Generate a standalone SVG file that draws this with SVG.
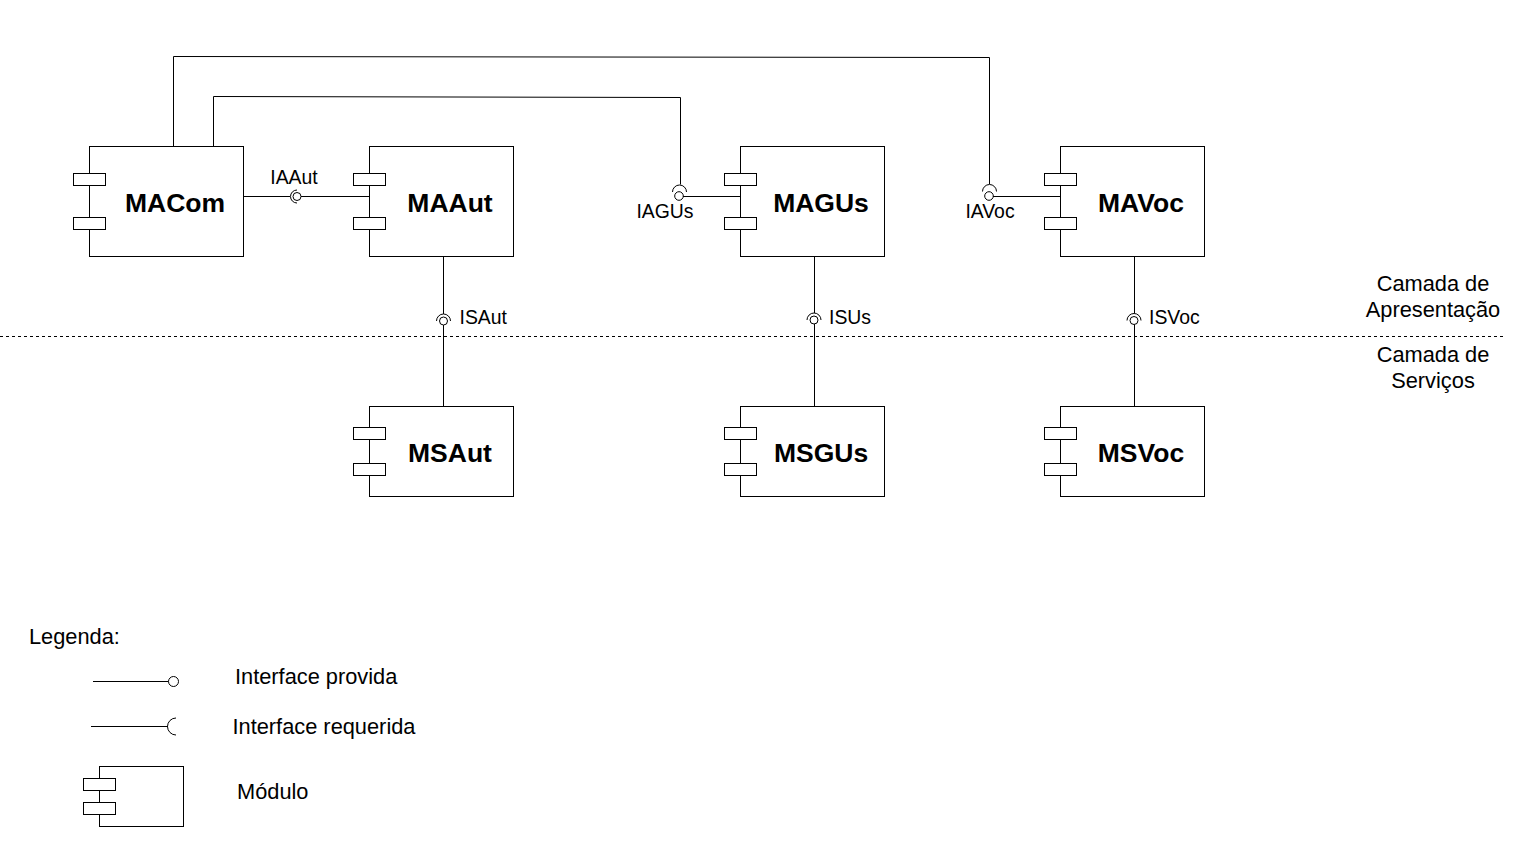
<svg xmlns="http://www.w3.org/2000/svg" width="1529" height="861" viewBox="0 0 1529 861">
<style>
.box{fill:#fff;stroke:#000;stroke-width:1}
.ln{fill:none;stroke:#000;stroke-width:1}
.name{font-family:"Liberation Sans",Arial,sans-serif;font-weight:bold;font-size:26.5px;text-anchor:middle;fill:#000}
.lbl{font-family:"Liberation Sans",Arial,sans-serif;font-size:19.4px;fill:#000}
.big{font-family:"Liberation Sans",Arial,sans-serif;font-size:21.8px;fill:#000}
</style>
<rect width="1529" height="861" fill="#fff"/>

<g id="connectors">
<polyline class="ln" points="173.5,146.5 173.5,56.5 989.5,57.5 989.5,184"/>
<polyline class="ln" points="213.5,146.5 213.5,96.5 680.5,97.5 680.5,184.5"/>
<!-- IAAut -->
<line class="ln" x1="243.5" y1="196.5" x2="290" y2="196.5"/>
<line class="ln" x1="301" y1="196.5" x2="373" y2="196.5"/>
<circle class="ln" cx="297" cy="196.5" r="4"/>
<path class="ln" d="M297,190 A6.5,6.5 0 0 0 297,203"/>
<!-- IAGUs -->
<line class="ln" x1="683" y1="196.5" x2="744" y2="196.5"/>
<circle class="ln" cx="679" cy="196" r="4.3"/>
<path class="ln" d="M672.5,192 A7,7 0 0 1 686.5,192"/>
<!-- IAVoc -->
<line class="ln" x1="993" y1="196.5" x2="1064" y2="196.5"/>
<circle class="ln" cx="989" cy="196" r="4.3"/>
<path class="ln" d="M982.5,191.5 A7,7 0 0 1 996.5,191.5"/>
<!-- ISAut -->
<line class="ln" x1="443.5" y1="256.5" x2="443.5" y2="314"/>
<line class="ln" x1="443.5" y1="325" x2="443.5" y2="406.5"/>
<circle class="ln" cx="443.5" cy="321" r="4"/>
<path class="ln" d="M436.5,321 A7,7 0 0 1 450.5,321"/>
<!-- ISUs -->
<line class="ln" x1="814.5" y1="256.5" x2="814.5" y2="313"/>
<line class="ln" x1="814.5" y1="324" x2="814.5" y2="406.5"/>
<circle class="ln" cx="814" cy="320" r="4"/>
<path class="ln" d="M807,320 A7,7 0 0 1 821,320"/>
<!-- ISVoc -->
<line class="ln" x1="1134.5" y1="256.5" x2="1134.5" y2="313"/>
<line class="ln" x1="1134.5" y1="324.5" x2="1134.5" y2="406.5"/>
<circle class="ln" cx="1134" cy="320.5" r="4"/>
<path class="ln" d="M1127,320.5 A7,7 0 0 1 1141,320.5"/>
</g>

<line class="ln" x1="0" y1="336.5" x2="1503" y2="336.5" stroke-dasharray="3 3"/>

<g id="MACom">
<rect class="box" x="89.5" y="146.5" width="154" height="110"/>
<rect class="box" x="73.5" y="173.5" width="32" height="12"/>
<rect class="box" x="73.5" y="217.5" width="32" height="12"/>
<text class="name" x="175" y="212">MACom</text>
</g>
<g id="MAAut">
<rect class="box" x="369.5" y="146.5" width="144" height="110"/>
<rect class="box" x="353.5" y="173.5" width="32" height="12"/>
<rect class="box" x="353.5" y="217.5" width="32" height="12"/>
<text class="name" x="450" y="212">MAAut</text>
</g>
<g id="MAGUs">
<rect class="box" x="740.5" y="146.5" width="144" height="110"/>
<rect class="box" x="724.5" y="173.5" width="32" height="12"/>
<rect class="box" x="724.5" y="217.5" width="32" height="12"/>
<text class="name" x="821" y="212">MAGUs</text>
</g>
<g id="MAVoc">
<rect class="box" x="1060.5" y="146.5" width="144" height="110"/>
<rect class="box" x="1044.5" y="173.5" width="32" height="12"/>
<rect class="box" x="1044.5" y="217.5" width="32" height="12"/>
<text class="name" x="1141" y="212">MAVoc</text>
</g>
<g id="MSAut">
<rect class="box" x="369.5" y="406.5" width="144" height="90"/>
<rect class="box" x="353.5" y="427.5" width="32" height="12"/>
<rect class="box" x="353.5" y="463.5" width="32" height="12"/>
<text class="name" x="450" y="462">MSAut</text>
</g>
<g id="MSGUs">
<rect class="box" x="740.5" y="406.5" width="144" height="90"/>
<rect class="box" x="724.5" y="427.5" width="32" height="12"/>
<rect class="box" x="724.5" y="463.5" width="32" height="12"/>
<text class="name" x="821" y="462">MSGUs</text>
</g>
<g id="MSVoc">
<rect class="box" x="1060.5" y="406.5" width="144" height="90"/>
<rect class="box" x="1044.5" y="427.5" width="32" height="12"/>
<rect class="box" x="1044.5" y="463.5" width="32" height="12"/>
<text class="name" x="1141" y="462">MSVoc</text>
</g>

<g id="labels">
<text class="lbl" x="294" y="184" text-anchor="middle">IAAut</text>
<text class="lbl" x="665" y="218" text-anchor="middle">IAGUs</text>
<text class="lbl" x="990" y="218" text-anchor="middle">IAVoc</text>
<text class="lbl" x="459.5" y="324">ISAut</text>
<text class="lbl" x="829" y="324">ISUs</text>
<text class="lbl" x="1149" y="324">ISVoc</text>
<text class="big" x="1433" y="291" text-anchor="middle">Camada de</text>
<text class="big" x="1433" y="317" text-anchor="middle">Apresentação</text>
<text class="big" x="1433" y="362" text-anchor="middle">Camada de</text>
<text class="big" x="1433" y="388" text-anchor="middle">Serviços</text>
</g>

<g id="legend">
<text class="big" x="29" y="644">Legenda:</text>
<line class="ln" x1="93" y1="681.5" x2="168.5" y2="681.5"/>
<circle class="ln" cx="173.5" cy="681.5" r="5"/>
<text class="big" x="235" y="684">Interface provida</text>
<line class="ln" x1="91" y1="726.5" x2="168" y2="726.5"/>
<path class="ln" d="M176,718 A8.5,8.5 0 0 0 176,735"/>
<text class="big" x="232.5" y="734">Interface requerida</text>
<rect class="box" x="99.5" y="766.5" width="84" height="60"/>
<rect class="box" x="83.5" y="778.5" width="32" height="12"/>
<rect class="box" x="83.5" y="802.5" width="32" height="12"/>
<text class="big" x="237" y="799">Módulo</text>
</g>
</svg>
